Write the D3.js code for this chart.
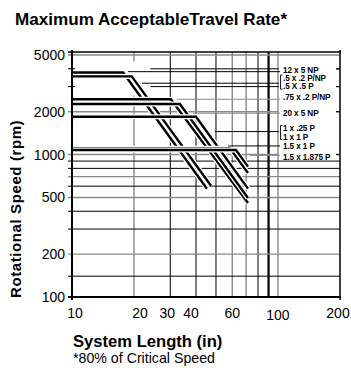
<!DOCTYPE html>
<html>
<head>
<meta charset="utf-8">
<script src="https://cdn.jsdelivr.net/npm/d3@7"></script>
<style>
  body { margin: 0; background: #fff; }
  svg { display: block; font-family: "Liberation Sans", Arial, Helvetica, sans-serif; }
</style>
</head>
<body>
<div id="chart"></div>
<script>
  // Axis tick labels
  var xTickLabels = [10, 20, 30, 40, 60, 100, 200]
  var yTickLabels = [100, 200, 500, 1000, 2000, 5000]

  // Grid lines and their shade
  var xGrid = [20, 30, 40, 50, 60, 70, 80, 90, 100]
  var xGridShade = ["gray", "black", "black", "black", "gray", "gray", "black", "heavy", "gray"]
  var yGrid = [140, 200, 300, 400, 500, 600, 700, 800, 900, 1000, 2000, 3000, 4000, 5000]
  var yGridShade = ["black", "gray", "black", "black", "gray", "black", "gray", "black", "black", "gray", "gray", "black", "black", "gray"]

  // Curves: [system length (in), rpm] -- flat limit, knee, end of critical speed line
  var curve12x5 = [[10, 3770], [17.7, 3770], [45.2, 576]]
  var curve05 = [[10, 3540], [19.5, 3540], [47.3, 604]]
  var curve075 = [[10, 2445], [30.2, 2445], [71.5, 457]]
  var curve20x5 = [[10, 2265], [33.4, 2265], [71.5, 495]]
  var curve1x = [[10, 1845], [40, 1845], [71.5, 577]]
  var curve15x1 = [[10, 1107], [58.5, 1107], [71.5, 743]]
  var curve15x1875 = [[10, 1077], [62.5, 1077], [71.5, 823]]
  var curves = [curve12x5, curve05, curve075, curve20x5, curve1x, curve15x1, curve15x1875]

  // Labels (grouped where a bracket joins two) and where their leader starts
  var labelGroups = [["12 x 5 NP"], [".5 x .2 P/NP", ".5 X .5 P"], [".75 x .2 P/NP"], ["20 x 5 NP"],
    ["1 x .25 P", "1 x 1 P"], ["1.5 x 1 P"], ["1.5 x 1.875 P"]]
  var leaderStart = [[18.7, 3820], [21.9, 3170], [32.3, 2445], [38.7, 1950], [49.4, 1450], [57.2, 1150], [73.1, 986]]
  var leaderShade = ["black", "black", "gray", "gray", "black", "black", "gray"]

  var width = 351
  var height = 375
  var gray = "#8a8a8a"

  var svg = d3.select("#chart")
    .append("svg")
    .attr("width", width)
    .attr("height", height)

  var x = d3.scaleLog().domain([10, 200]).range([72, 340])
  var y = d3.scaleLog().domain([100, 5250]).range([297, 52])
  var plotTop = y.range()[1], plotBottom = y.range()[0]
  var plotLeft = x.range()[0], plotRight = x.range()[1]

  function shadeColor(s) { return s == "gray" ? gray : "#000" }
  function shadeWidth(s) { return s == "heavy" ? 2.2 : (s == "gray" ? 1.4 : 1) }

  // vertical grid
  svg.append("g")
    .selectAll("line")
    .data(xGrid)
    .enter()
    .append("line")
    .attr("x1", d => x(d)).attr("x2", d => x(d))
    .attr("y1", plotTop).attr("y2", plotBottom)
    .attr("stroke", (d, i) => shadeColor(xGridShade[i]))
    .attr("stroke-width", (d, i) => shadeWidth(xGridShade[i]))

  // horizontal grid, with a short tick left of the axis
  svg.append("g")
    .selectAll("line")
    .data(yGrid)
    .enter()
    .append("line")
    .attr("x1", plotLeft - 4)
    .attr("x2", plotRight)
    .attr("y1", d => y(d)).attr("y2", d => y(d))
    .attr("stroke", (d, i) => shadeColor(yGridShade[i]))
    .attr("stroke-width", (d, i) => shadeWidth(yGridShade[i]))

  // 3000 / 4000 only show as ticks behind the top curves
  svg.append("rect")
    .attr("x", plotLeft + 3).attr("y", y(4500))
    .attr("width", x(24) - plotLeft - 3).attr("height", y(2600) - y(4500))
    .attr("fill", "#fff")

  // curves: white casing then black line
  var line = d3.line().x(d => x(d[0])).y(d => y(d[1]))
  var cg = svg.append("g")
  curves.forEach(function (c) {
    cg.append("path").attr("d", line(c)).attr("fill", "none")
      .attr("stroke", "#fff").attr("stroke-width", 5)
    cg.append("path").attr("d", line(c)).attr("fill", "none")
      .attr("stroke", "#000").attr("stroke-width", 2.4)
  })

  // label column background
  var colX = x(100) + 1
  svg.append("rect")
    .attr("x", colX).attr("y", y(4300))
    .attr("width", plotRight - 4 - colX).attr("height", y(940) - y(4300))
    .attr("fill", "#fff")

  // right side ticks
  svg.append("g")
    .selectAll("line")
    .data(yGrid.filter(d => d >= 1000 && d < 5000))
    .enter()
    .append("line")
    .attr("x1", plotRight - 4).attr("x2", plotRight)
    .attr("y1", d => y(d)).attr("y2", d => y(d))
    .attr("stroke", "#000").attr("stroke-width", 1)

  // leaders, brackets and labels
  var lg = svg.append("g")
  var textX = x(100) + 5
  var labelShift = [-1.9, -1.1, -2.6, -0.3, 0.9, 0.7, 1.2]
  labelGroups.forEach(function (grp, i) {
    var ly = y(leaderStart[i][1])
    lg.append("line")
      .attr("x1", x(leaderStart[i][0])).attr("x2", x(100) + (grp.length > 1 ? 1 : 2))
      .attr("y1", ly).attr("y2", ly)
      .attr("stroke", shadeColor(leaderShade[i])).attr("stroke-width", 1)
    var ty = ly + labelShift[i]
    if (grp.length > 1) {
      var bx = x(100) + 2.5
      lg.append("path")
        .attr("d", `M${bx + 2},${ty - 7}H${bx}V${ty + 7}H${bx + 2}`)
        .attr("fill", "none").attr("stroke", "#000").attr("stroke-width", 0.9)
    }
    grp.forEach(function (t, j) {
      var off = grp.length > 1 ? (j == 0 ? -4.4 : 4.4) : 0
      lg.append("text")
        .attr("x", textX).attr("y", ty + off)
        .attr("dy", "0.35em")
        .attr("font-size", 8.2)
        .attr("font-weight", "bold")
        .attr("letter-spacing", -0.1)
        .text(t)
    })
  })

  // frame
  svg.append("line").attr("x1", plotLeft).attr("x2", plotLeft).attr("y1", plotTop - 2).attr("y2", plotBottom + 3)
    .attr("stroke", "#000").attr("stroke-width", 2)
  svg.append("line").attr("x1", plotLeft - 4).attr("x2", plotRight + 1).attr("y1", plotBottom).attr("y2", plotBottom)
    .attr("stroke", "#000").attr("stroke-width", 2)
  svg.append("line").attr("x1", plotLeft - 4).attr("x2", plotRight + 1).attr("y1", plotTop).attr("y2", plotTop)
    .attr("stroke", "#000").attr("stroke-width", 1.5)
  svg.append("line").attr("x1", plotRight).attr("x2", plotRight).attr("y1", plotTop - 2).attr("y2", plotBottom + 3)
    .attr("stroke", "#000").attr("stroke-width", 1.5)

  // y tick labels
  svg.append("g")
    .selectAll("text")
    .data(yTickLabels)
    .enter()
    .append("text")
    .attr("x", plotLeft - 7)
    .attr("y", d => y(d))
    .attr("dy", "0.36em")
    .attr("text-anchor", "end")
    .attr("font-size", 14)
    .text(d => d)

  // x tick labels (nudged like the original)
  var nudge = { 10: 3, 20: 6, 30: -3, 40: -5, 60: 0, 100: 0, 200: -2 }
  svg.append("g")
    .selectAll("text")
    .data(xTickLabels)
    .enter()
    .append("text")
    .attr("x", d => x(d) + nudge[d])
    .attr("y", d => d == 100 ? plotBottom + 23 : plotBottom + 21)
    .attr("text-anchor", "middle")
    .attr("font-size", 14)
    .text(d => d)

  // titles
  svg.append("text")
    .attr("x", 15).attr("y", 25)
    .attr("font-size", 17.1).attr("font-weight", "bold")
    .text("Maximum AcceptableTravel Rate*")

  svg.append("text")
    .attr("transform", `translate(21,${plotBottom + 1}) rotate(-90)`)
    .attr("text-anchor", "start")
    .attr("font-size", 15).attr("font-weight", "bold")
    .attr("letter-spacing", 0.6)
    .text("Rotational Speed (rpm)")

  svg.append("text")
    .attr("x", 73).attr("y", 347)
    .attr("font-size", 16.6).attr("font-weight", "bold")
    .text("System Length (in)")

  svg.append("text")
    .attr("x", 73).attr("y", 363)
    .attr("font-size", 14.2)
    .text("*80% of Critical Speed")
</script>
</body>
</html>
